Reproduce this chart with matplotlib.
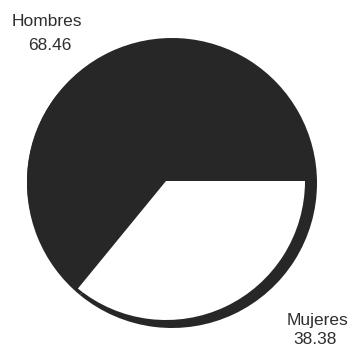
import matplotlib
matplotlib.use("Agg")
import matplotlib.pyplot as plt

categories = ["Hombres", "Mujeres"]
values = [68.46, 38.38]
value_labels = ["68.46", "38.38"]

dark = "#272727"
plt.rcParams['font.family'] = ['Liberation Sans', 'DejaVu Sans']

fig = plt.figure(figsize=(3.51, 3.48), dpi=100)
ax = fig.add_axes([0, 0, 1, 1])

# shadow (slightly larger, offset dark disc)
ax.pie(values, colors=[dark, dark], startangle=0, counterclock=True,
       center=(172, 165), radius=145, frame=True,
       wedgeprops=dict(linewidth=0))
# main pie
ax.pie(values, colors=[dark, "white"], startangle=0, counterclock=True,
       center=(166, 167), radius=139, frame=True,
       wedgeprops=dict(linewidth=0))
ax.set_xlim(0, 351)
ax.set_ylim(0, 348)
ax.set_aspect('equal')
ax.axis('off')

tc = "#2e2e2e"
fs = 12.5
ax.text(47, 326, categories[0], ha='center', va='center', fontsize=fs, color=tc)
ax.text(50, 303, value_labels[0], ha='center', va='center', fontsize=fs, color=tc)
ax.text(317, 27, categories[1], ha='center', va='center', fontsize=fs, color=tc)
ax.text(315, 8, value_labels[1], ha='center', va='center', fontsize=fs, color=tc)

fig.savefig("out.png", dpi=100, facecolor="white")
